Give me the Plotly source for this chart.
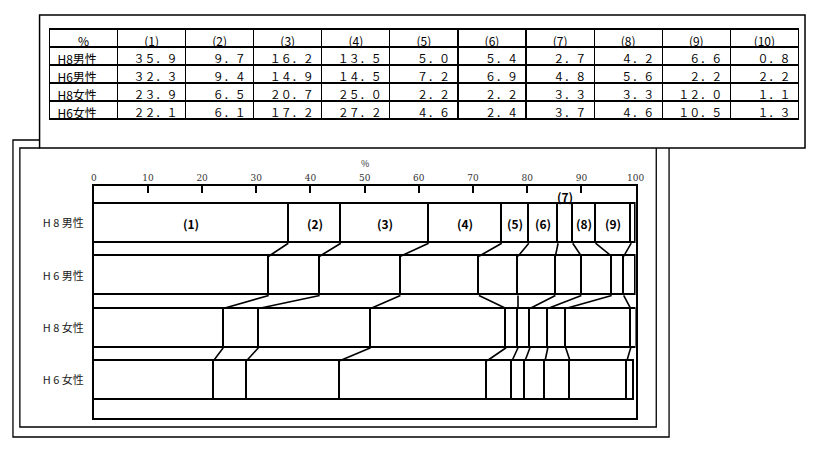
import plotly.graph_objects as go

# ---- data ----
categories = ["H8男性", "H6男性", "H8女性", "H6女性"]
segments = ["(1)", "(2)", "(3)", "(4)", "(5)", "(6)", "(7)", "(8)", "(9)", "(10)"]
h8_male = [35.9, 9.7, 16.2, 13.5, 5.0, 5.4, 2.7, 4.2, 6.6, 0.8]
h6_male = [32.3, 9.4, 14.9, 14.5, 7.2, 6.9, 4.8, 5.6, 2.2, 2.2]
h8_female = [23.9, 6.5, 20.7, 25.0, 2.2, 2.2, 3.3, 3.3, 12.0, 1.1]
h6_female = [22.1, 6.1, 17.2, 27.2, 4.6, 2.4, 3.7, 4.6, 10.5, 1.3]
tick_values = [0, 10, 20, 30, 40, 50, 60, 70, 80, 90, 100]

rows = [h8_male, h6_male, h8_female, h6_female]

# page body margin (8px) offsets the figure; keep it inside the window
OFF = 8
W, H = 823 - 2 * OFF, 450 - 2 * OFF
def px(x):
    return (x - OFF) / W
def py(y):
    return 1 - (y - OFF) / H

FONT = "Noto Sans CJK JP"
fw = str.maketrans("0123456789.", "０１２３４５６７８９．")

fig = go.Figure()

# stacked bars
ypos = list(range(len(categories)))
BW = 0.75
for k, seg in enumerate(segments):
    fig.add_trace(go.Bar(
        x=[r[k] for r in rows], y=ypos, orientation="h", width=BW,
        marker=dict(color="white", line=dict(color="black", width=1.6)),
        name=seg, showlegend=False, hoverinfo="skip",
        xaxis="x", yaxis="y"))

# connector lines between consecutive bars
def cumsum(v):
    out, s = [], 0
    for a in v:
        s += a
        out.append(s)
    return out

cx, cy = [], []
for i in range(len(rows) - 1):
    c1 = cumsum(rows[i])
    c2 = cumsum(rows[i + 1])
    for k in range(len(segments) - 1):
        cx += [c1[k], c2[k], None]
        cy += [i + BW / 2, i + 1 - BW / 2, None]
fig.add_trace(go.Scatter(x=cx, y=cy, mode="lines",
                         line=dict(color="black", width=1.6),
                         showlegend=False, hoverinfo="skip",
                         xaxis="x", yaxis="y"))

# segment labels on first bar
c0 = cumsum(rows[0])
starts = [0] + c0[:-1]
annotations = []
for k, seg in enumerate(segments):
    mid = (starts[k] + c0[k]) / 2
    above = seg in ("(7)", "(10)")
    annotations.append(dict(
        x=mid + (0.8 if seg == "(10)" else 0), y=-0.51 if above else 0,
        xref="x", yref="y",
        text="<b>" + seg + "</b>", showarrow=False,
        font=dict(family=FONT, size=12, color="black")))

# % label
annotations.append(dict(x=50, y=py(163), xref="x", yref="paper",
                        text="%", showarrow=False,
                        font=dict(family=FONT, size=9, color="#333")))

# table
header_vals = ["%"] + segments
cell_cols = [categories] + [
    [f"{r[k]:.1f}".translate(fw) for r in rows] for k in range(len(segments))
]
fig.add_trace(go.Table(
    domain=dict(x=[px(47), px(808)], y=[py(121), py(29)]),
    columnwidth=[1] * 11,
    header=dict(values=header_vals, height=18, align="center",
                fill=dict(color="white"),
                line=dict(color="black", width=1.2),
                font=dict(family=FONT, size=12, color="black")),
    cells=dict(values=cell_cols, height=18,
               align=["left"] + ["right"] * 10,
               fill=dict(color="white"),
               line=dict(color="black", width=1.2),
               font=dict(family=FONT, size=[12] + [11] * 10, color="black")),
))

shapes = [
    # table frame
    dict(type="rect", xref="paper", yref="paper",
         x0=px(37), x1=px(814), y0=py(148), y1=py(15),
         line=dict(color="black", width=1.5)),
    # chart outer frame
    dict(type="path", xref="paper", yref="paper",
         path=f"M {px(37)},{py(140)} L {px(10)},{py(140)} L {px(10)},{py(437)} "
              f"L {px(676)},{py(437)} L {px(676)},{py(148)}",
         line=dict(color="black", width=1.3)),
    # chart inner frame
    dict(type="path", xref="paper", yref="paper",
         path=f"M {px(37)},{py(148)} L {px(17)},{py(148)} L {px(17)},{py(427)} "
              f"L {px(663)},{py(427)} L {px(663)},{py(148)}",
         line=dict(color="black", width=1.3)),
]

fig.update_layout(
    width=W, height=H,
    margin=dict(l=0, r=0, t=0, b=0),
    paper_bgcolor="white", plot_bgcolor="white",
    barmode="stack", bargap=0,
    showlegend=False,
    font=dict(family=FONT, color="black"),
    xaxis=dict(domain=[px(92), px(642)], range=[0, 100], side="top",
               tickvals=tick_values, ticktext=[str(v) for v in tick_values],
               ticks="inside", ticklen=7, tickwidth=1.5, tickcolor="black",
               showline=True, linecolor="black", linewidth=1.6, mirror=True,
               showgrid=False, zeroline=False,
               tickfont=dict(family="DejaVu Serif", size=9, color="#333")),
    yaxis=dict(domain=[py(418), py(186)], range=[3.72, -0.72],
               tickvals=ypos, ticktext=[c[:1] + " " + c[1:2] + " " + c[2:] for c in categories],
               ticks="", ticklabelstandoff=6,
               showline=True, linecolor="black", linewidth=1.6, mirror=True,
               showgrid=False, zeroline=False,
               tickfont=dict(family=FONT, size=11, color="#222")),
    annotations=annotations,
    shapes=shapes,
)

fig.write_html("out.html")
